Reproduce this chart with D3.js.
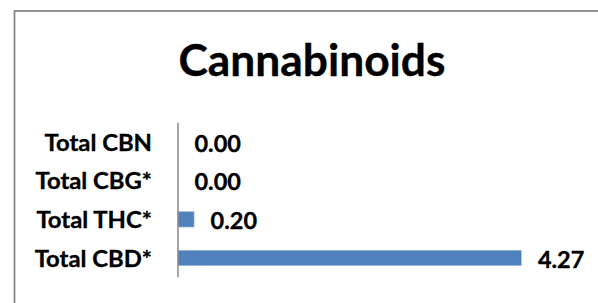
<!DOCTYPE html>
<html>
<head>
<meta charset="utf-8">
<script src="https://cdn.jsdelivr.net/npm/d3@7"></script>
<style>
  html, body { margin: 0; padding: 0; background: #fff; }
  svg { display: block; }
  text { font-family: Lato, "Open Sans", sans-serif; font-weight: 700; fill: #000; stroke: #000; stroke-width: 0.35px; }
</style>
</head>
<body>
<svg id="chart" width="598" height="303"></svg>
<script>
/* Cannabinoids — horizontal bar chart, Excel-like style. */
const categories = ["Total CBN", "Total CBG*", "Total THC*", "Total CBD*"];
const values = [0.00, 0.00, 0.20, 4.27];
const valueLabels = ["0.00", "0.00", "0.20", "4.27"];
const title = "Cannabinoids";

const BAR = "#4f81bd";
const GRID = "#878787";
const CAP = 0.7165; // Lato cap height, in em

const svg = d3.select("#chart");

// chart frame (runs off the right and bottom edge in the source)
svg.append("rect")
  .attr("x", 14.5).attr("y", 11)
  .attr("width", 700).attr("height", 400)
  .attr("fill", "none").attr("stroke", GRID).attr("stroke-width", 1.8);

const x = d3.scaleLinear().domain([0, 5]).range([178, 580.1]);
const y = d3.scaleBand().domain(categories).range([122.7, 277.3])
  .paddingInner(0.6).paddingOuter(0.3);

// scale a text's font size so its rendered width matches a target
function fitSize(str, target, base) {
  const t = svg.append("text").attr("font-size", base).text(str);
  const w = t.node().getComputedTextLength();
  t.remove();
  return base * target / w;
}

const titleSize = fitSize(title, 267, 40);
const catSize = fitSize("Total CBN", 107.5, 20);
const valSize = fitSize("0.00", 46.5, 20);
// vertical stretch so cap height matches the source's Calibri
const sy = (size, cap) => cap / (size * CAP);
const place = (px, py, s) => `translate(${px},${py}) scale(1,${s})`;

svg.append("text")
  .attr("transform", place(312, 76, sy(titleSize, 31)))
  .attr("text-anchor", "middle")
  .attr("font-size", titleSize)
  .text(title);

svg.append("g").selectAll("rect")
  .data(values)
  .join("rect")
  .attr("x", x(0))
  .attr("y", (d, i) => y(categories[i]))
  .attr("width", (d) => x(d) - x(0))
  .attr("height", y.bandwidth())
  .attr("fill", BAR)
  .attr("stroke", "#a9c0dd")
  .attr("stroke-width", (d) => (d > 0 ? 0.6 : 0));

// vertical category axis
svg.append("line")
  .attr("x1", x(0)).attr("x2", x(0))
  .attr("y1", y.range()[0]).attr("y2", y.range()[1])
  .attr("stroke", GRID).attr("stroke-width", 1.5);

svg.append("g").selectAll("text")
  .data(categories)
  .join("text")
  .attr("transform", (d) => place(152, y(d) + y.bandwidth() / 2 + 8.7, sy(catSize, 16)))
  .attr("text-anchor", "end")
  .attr("font-size", catSize)
  .text((d) => d);

svg.append("g").selectAll("text")
  .data(values)
  .join("text")
  .attr("transform", (d, i) => place(x(d) + 16.5, y(categories[i]) + y.bandwidth() / 2 + 9.7, sy(valSize, 16.5)))
  .attr("font-size", valSize)
  .text((d, i) => valueLabels[i]);
</script>
</body>
</html>
